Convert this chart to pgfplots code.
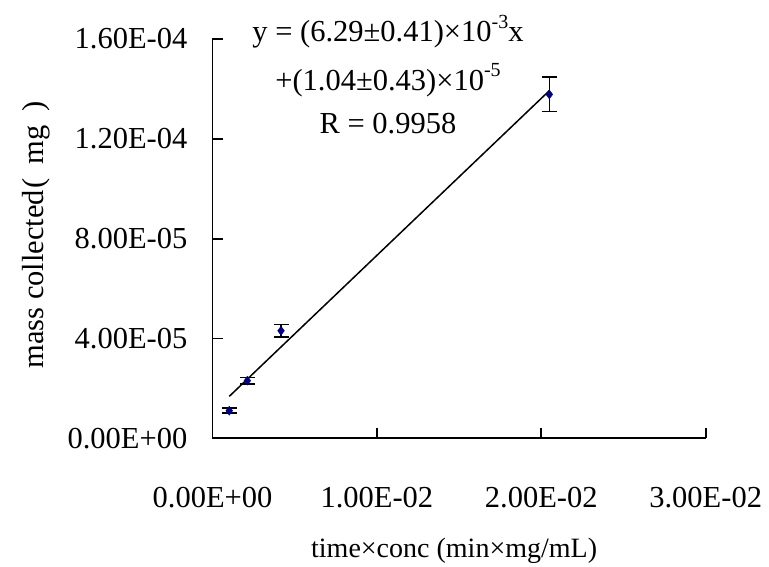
\documentclass[border=0pt]{standalone}
\usepackage{fontspec}
\setmainfont{Liberation Serif}
\usepackage{pgfplots}
\pgfplotsset{compat=1.18}
\newcommand\lbl{\fontsize{30.5bp}{36bp}\selectfont}
\newcommand\xlbl{\fontsize{28bp}{34bp}\selectfont}
\definecolor{navy}{RGB}{0,0,128}

\begin{document}
\begin{tikzpicture}
\path[use as bounding box] (-212.5bp,-128.7bp) rectangle (556.5bp,438.3bp);
\begin{axis}[
  scale only axis, width=493.2bp, height=399.3bp,
  xmin=0, xmax=0.03, ymin=0, ymax=1.6e-4,
  axis x line*=bottom, axis y line*=left,
  axis line style={line width=1.8bp, black},
  tick align=inside, major tick length=10bp,
  every tick/.style={black, line width=1.8bp},
  xtick={0,0.01,0.02,0.03},
  xticklabels={0.00E+00,1.00E-02,2.00E-02,3.00E-02},
  ytick={0,4e-5,8e-5,1.2e-4,1.6e-4},
  yticklabels={0.00E+00,4.00E-05,8.00E-05,1.20E-04,1.60E-04},
  scaled ticks=false,
  xticklabel style={font=\lbl, anchor=base, yshift=-69bp, inner sep=0pt},
  yticklabel style={font=\lbl, anchor=east, xshift=-25bp, inner sep=0pt},
  xlabel={time×conc (min×mg/mL)},
  ylabel={mass collected\hspace{0.05em}(\hspace{0.45em}mg\hspace{0.45em})},
  xlabel style={font=\xlbl, at={(rel axis cs:0.5,0)}, anchor=base, xshift=-5bp, yshift=-119bp},
  ylabel style={font=\lbl, at={([xshift=-176.5bp,yshift=3.6bp]rel axis cs:0,0.5)}, anchor=center},
  clip=false,
]
% least-squares trendline from the fitted equation
\addplot[black, line width=1.5bp] coordinates {(0.00102,1.68e-5) (0.02049,1.393e-4)};
% measured points with their error bars
\addplot[only marks, mark=diamond*, mark size=4.5bp,
  mark options={draw=navy, fill=navy},
  error bars/.cd, y dir=both, y explicit, error mark=|,
  error bar style={black, line width=1.5bp},
  error mark options={black, line width=1.5bp, mark size=7.5bp}]
  coordinates {
  (0.00102,11.06e-6) +- (0,1.0e-6)
  (0.00212,23.1e-6)  +- (0,1.3e-6)
  (0.00417,43.1e-6)  +- (0,2.5e-6)
  (0.02049,137.8e-6) +- (0,6.9e-6)
};
\node[font=\lbl, anchor=base] at (axis cs:0.010675,158.8e-6) {y = (6.29±0.41)×10\raisebox{0.45em}{\fontsize{20bp}{24bp}\selectfont -3}x};
\node[font=\lbl, anchor=base] at (axis cs:0.010675,139.5e-6) {+(1.04±0.43)×10\raisebox{0.45em}{\fontsize{20bp}{24bp}\selectfont -5}};
\node[font=\lbl, anchor=base] at (axis cs:0.010675,122.3e-6) {R = 0.9958};
\end{axis}
\end{tikzpicture}
\end{document}
